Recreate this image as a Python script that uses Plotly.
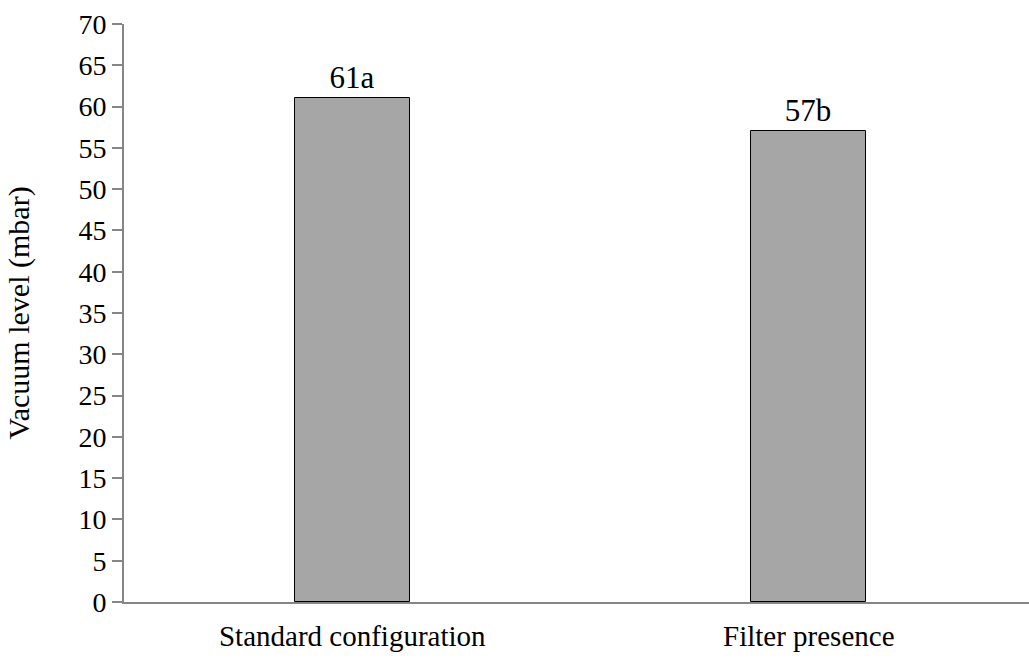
import plotly.graph_objects as go

categories = ["Standard configuration", "Filter presence"]
values = [61, 57]
bar_labels = ["61a", "57b"]
y_ticks = list(range(0, 75, 5))

FONT = "Liberation Serif"
AXIS = "#868686"

fig = go.Figure(go.Bar(
    x=categories, y=values, text=bar_labels, textposition="outside",
    textfont=dict(family=FONT, size=31, color="black"),
    marker=dict(color="#a6a6a6", line=dict(color="black", width=1)),
    width=0.252, cliponaxis=False,
))

fig.update_layout(
    width=1038, height=660,
    margin=dict(l=124, r=1, t=24, b=58),
    paper_bgcolor="white", plot_bgcolor="white",
    font=dict(family=FONT, color="black", size=28),
    showlegend=False,
    bargap=0,
)
fig.update_xaxes(
    showline=True, linecolor=AXIS, linewidth=2, ticks="",
    tickfont=dict(family=FONT, size=29), showgrid=False,
    ticklabelstandoff=7,
)
fig.update_yaxes(
    range=[0, 70], tickvals=y_ticks, showline=True, linecolor=AXIS, linewidth=2,
    ticks="outside", ticklen=10, tickcolor=AXIS, tickwidth=2,
    showgrid=False, zeroline=False,
    tickfont=dict(family=FONT, size=28),
    title=dict(text="Vacuum level (mbar)", font=dict(family=FONT, size=30), standoff=40),
)
fig.add_shape(type="line", xref="paper", yref="paper", x0=-0.011, x1=0, y0=0, y1=0,
              line=dict(color=AXIS, width=2))
fig.write_html(
    "out.html",
    config={"displayModeBar": False},
    post_script="document.body.style.margin='0';document.body.style.overflow='hidden';",
)
